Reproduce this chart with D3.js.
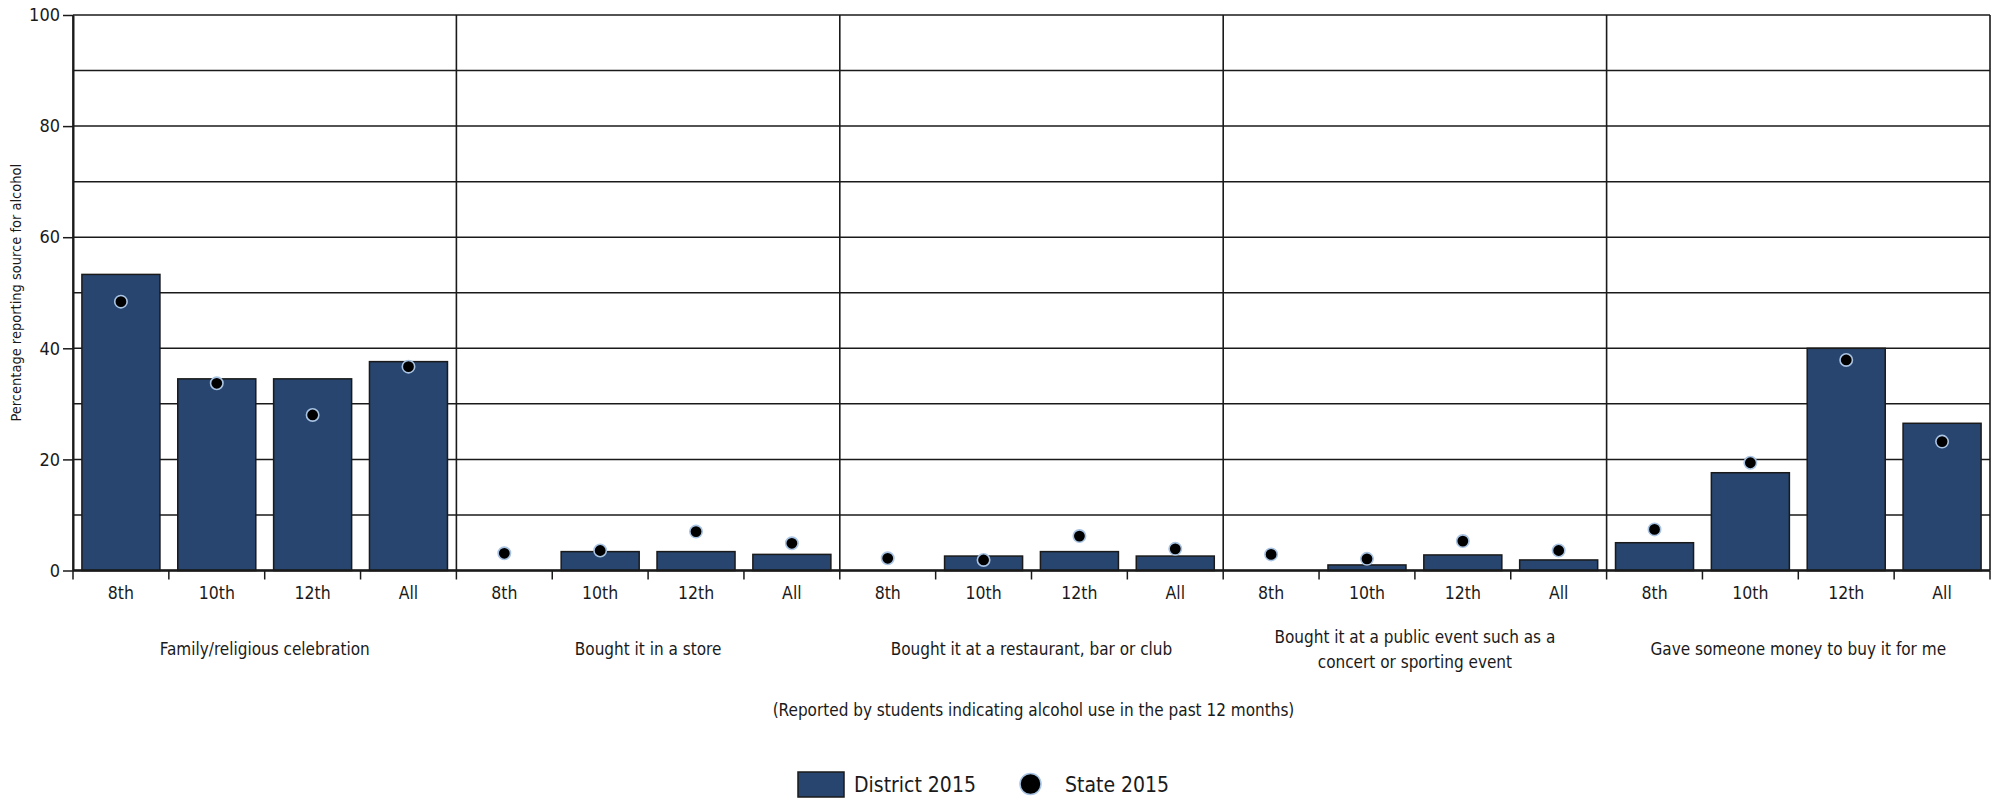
<!DOCTYPE html>
<html>
<head>
<meta charset="utf-8">
<script src="https://cdn.jsdelivr.net/npm/d3@7"></script>
<style>
  body { margin: 0; background: #fff; }
  svg { display: block; }
  text { font-family: "Liberation Sans Narrow", "Arial Narrow", "DejaVu Sans Condensed", sans-serif; fill: #1a1a1a; }
</style>
</head>
<body>
<svg id="chart" width="1999" height="801"></svg>
<script>
const categories = [
  "Family/religious celebration",
  "Bought it in a store",
  "Bought it at a restaurant, bar or club",
  "Bought it at a public event such as a concert or sporting event",
  "Gave someone money to buy it for me"
];
const grades = ["8th", "10th", "12th", "All"];
const district2015 = [
  [53.3, 34.5, 34.5, 37.6],
  [null, 3.4, 3.4, 2.9],
  [null, 2.6, 3.4, 2.6],
  [null, 1.0, 2.8, 1.9],
  [5.0, 17.6, 40.0, 26.5]
];
const state2015 = [
  [48.4, 33.7, 28.0, 36.7],
  [3.1, 3.6, 7.0, 4.9],
  [2.2, 1.9, 6.2, 3.9],
  [2.9, 2.1, 5.3, 3.6],
  [7.4, 19.4, 37.9, 23.2]
];
const yTickLabels = [0, 20, 40, 60, 80, 100];
const seriesNames = ["District 2015", "State 2015"];
const yTitle = "Percentage reporting source for alcohol";
const subtitle = "(Reported by students indicating alcohol use in the past 12 months)";

const svg = d3.select("#chart");
const mLeft = 73, mRight = 1990, mTop = 15, mBottom = 570.5;
const barColor = "#27456f";
const lineColor = "#1a1a1a";

const x0 = d3.scaleBand().domain(d3.range(categories.length)).range([mLeft, mRight]).padding(0);
const x1 = d3.scaleBand().domain(grades).range([0, x0.bandwidth()]).paddingInner(0.186).paddingOuter(0.093);
const y = d3.scaleLinear().domain([0, 100]).range([mBottom, mTop]);

// gridlines
svg.append("g").selectAll("line").data(y.ticks(10)).join("line")
  .attr("x1", mLeft).attr("x2", mRight)
  .attr("y1", d => y(d)).attr("y2", d => y(d))
  .attr("stroke", lineColor).attr("stroke-width", 1.5);

// group separators and right border
const seps = d3.range(categories.length + 1).map(i => i < categories.length ? x0(i) : mRight);
svg.append("g").selectAll("line").data(seps).join("line")
  .attr("x1", d => d).attr("x2", d => d)
  .attr("y1", mTop).attr("y2", mBottom)
  .attr("stroke", lineColor).attr("stroke-width", 1.6);

// bars & dots
const groups = svg.append("g").selectAll("g").data(categories).join("g")
  .attr("transform", (d, i) => `translate(${x0(i)},0)`);

groups.each(function(cat, gi) {
  const g = d3.select(this);
  const bars = grades.map((gr, j) => ({ gr, v: district2015[gi][j] })).filter(d => d.v != null);
  g.selectAll("rect").data(bars).join("rect")
    .attr("x", d => x1(d.gr)).attr("width", x1.bandwidth())
    .attr("y", d => y(d.v)).attr("height", d => y(0) - y(d.v))
    .attr("fill", barColor).attr("stroke", lineColor).attr("stroke-width", 1.5);
  const dots = grades.map((gr, j) => ({ gr, v: state2015[gi][j] }));
  g.selectAll("circle").data(dots).join("circle")
    .attr("cx", d => x1(d.gr) + x1.bandwidth() / 2)
    .attr("cy", d => y(d.v))
    .attr("r", 6.2)
    .attr("fill", "#000").attr("stroke", "#a9c3e3").attr("stroke-width", 1.6);
});

// y axis
const yAxis = svg.append("g").attr("transform", `translate(${mLeft},0)`)
  .call(d3.axisLeft(y).tickValues(yTickLabels).tickSize(10).tickSizeOuter(0).tickPadding(3));
yAxis.select(".domain").attr("stroke", lineColor).attr("stroke-width", 2);
yAxis.selectAll(".tick line").attr("stroke", lineColor).attr("stroke-width", 1.5);
yAxis.selectAll(".tick text").style("font-size", "18px").attr("fill", lineColor);

// x axis: per group sub axes
groups.each(function(cat, gi) {
  const g = d3.select(this).append("g").attr("transform", `translate(0,${mBottom})`)
    .call(d3.axisBottom(x1).tickSize(0).tickPadding(16));
  g.select(".domain").remove();
  g.selectAll(".tick text").style("font-size", "17.5px").attr("fill", lineColor);
});
// x tick marks at sub-band boundaries
const tickXs = [];
categories.forEach((c, gi) => {
  grades.forEach((gr, j) => tickXs.push(x0(gi) + j * x1.step()));
});
tickXs.push(mRight);
svg.append("g").selectAll("line").data(tickXs).join("line")
  .attr("x1", d => d).attr("x2", d => d)
  .attr("y1", mBottom).attr("y2", mBottom + 9)
  .attr("stroke", lineColor).attr("stroke-width", 1.5);
// baseline
svg.append("line").attr("x1", mLeft).attr("x2", mRight).attr("y1", mBottom).attr("y2", mBottom)
  .attr("stroke", lineColor).attr("stroke-width", 2.5);

// category labels with wrapping
const catFont = 17;
categories.forEach((c, gi) => {
  const t = svg.append("text")
    .attr("x", x0(gi) + x0.bandwidth() / 2)
    .attr("text-anchor", "middle")
    .style("font-size", catFont + "px");
  const words = c.split(" ");
  let lines = [], cur = [];
  const probe = svg.append("text").style("font-size", catFont + "px");
  words.forEach(w => {
    const test = cur.concat([w]).join(" ");
    probe.text(test);
    if (probe.node().getComputedTextLength() > 322 && cur.length) {
      lines.push(cur.join(" ")); cur = [w];
    } else cur.push(w);
  });
  lines.push(cur.join(" "));
  probe.remove();
  const lh = 24.5;
  const cy = 649.5 - (lines.length - 1) * lh / 2;
  lines.forEach((l, k) => {
    t.append("tspan").attr("x", x0(gi) + x0.bandwidth() / 2)
      .attr("y", cy + k * lh).attr("dy", "0.35em").text(l);
  });
});

// y title
svg.append("text")
  .attr("transform", `translate(16,${(mTop + mBottom) / 2}) rotate(-90)`)
  .attr("text-anchor", "middle").attr("dy", "0.35em")
  .style("font-size", "14.5px")
  .text(yTitle);

// subtitle
svg.append("text")
  .attr("x", (mLeft + mRight) / 2 + 2).attr("y", 710).attr("dy", "0.35em")
  .attr("text-anchor", "middle").style("font-size", "17px")
  .text(subtitle);

// legend
const leg = svg.append("g");
leg.append("rect").attr("x", 798).attr("y", 772).attr("width", 46).attr("height", 25)
  .attr("fill", barColor).attr("stroke", lineColor).attr("stroke-width", 1.5);
leg.append("text").attr("x", 854).attr("y", 792).style("font-size", "21px").text(seriesNames[0]);
leg.append("circle").attr("cx", 1030.5).attr("cy", 784).attr("r", 10.5)
  .attr("fill", "#000").attr("stroke", "#a9c3e3").attr("stroke-width", 1.5);
leg.append("text").attr("x", 1065).attr("y", 792).style("font-size", "21px").text(seriesNames[1]);
</script>
</body>
</html>
